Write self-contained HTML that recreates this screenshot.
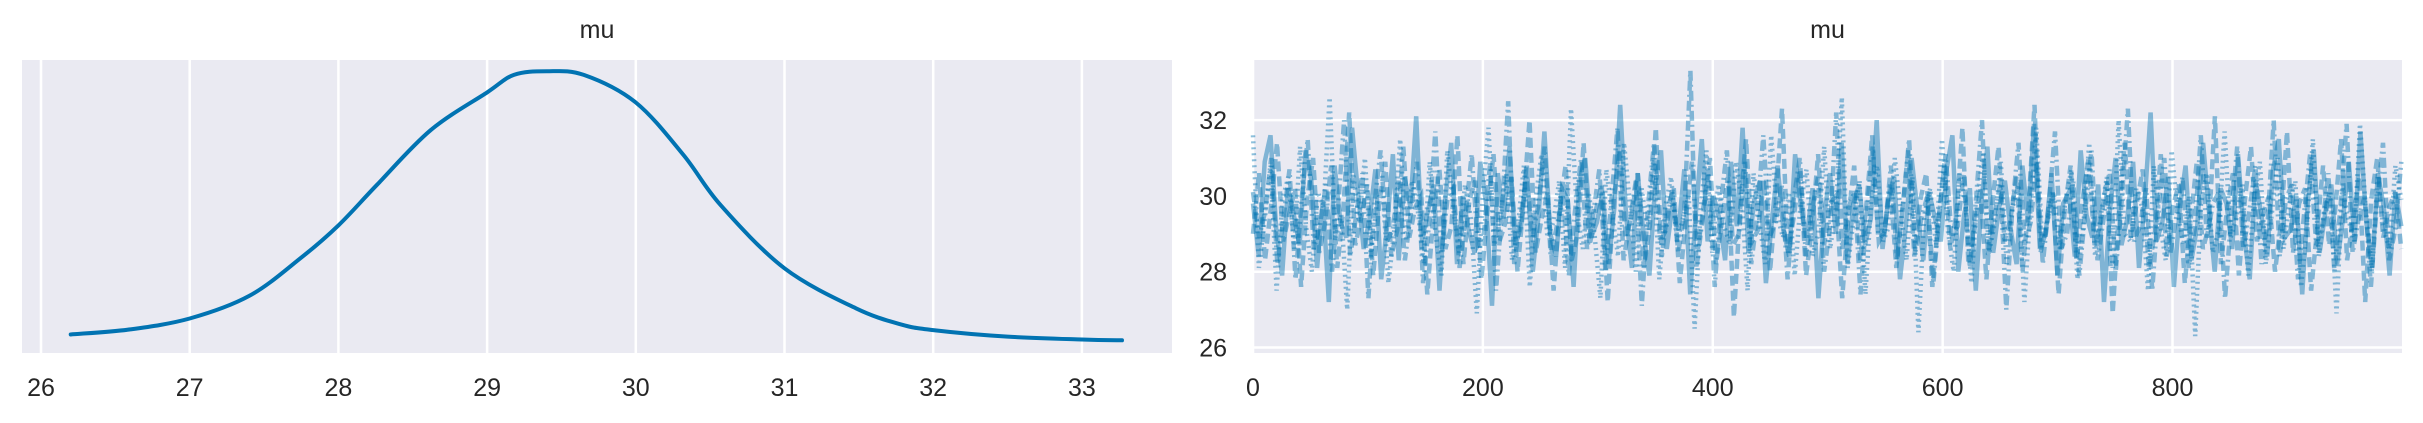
<!DOCTYPE html>
<html><head><meta charset="utf-8">
<style>
html,body{margin:0;padding:0;background:#fff;}
svg{display:block;font-family:"Liberation Sans",Arial,sans-serif;}
</style></head>
<body>
<svg id="fig" width="2423" height="423" viewBox="0 0 2423 423" xmlns="http://www.w3.org/2000/svg">
  <g id="left"></g>
  <g id="right"></g>
</svg>
<script>
// ---- KDE data (density panel) ----
const kdeX = [26.2,26.6,27.0,27.4,27.74,28.0,28.26,28.62,29.0,29.18,29.4,29.65,30.0,30.32,30.57,31.0,31.48,31.78,32.0,32.5,33.0,33.27];
const kdeY = [0.009,0.016,0.031,0.062,0.113,0.159,0.215,0.290,0.342,0.366,0.371,0.366,0.328,0.256,0.187,0.100,0.045,0.023,0.015,0.006,0.002,0.001];
const leftTicks = [26,27,28,29,30,31,32,33];
// ---- Trace data (4 chains, thinned draws) ----
const chain1 = [29.8,28.4,30.9,31.6,29.1,27.9,30.2,29.5,28.7,31.2,30.4,28.1,29.9,27.2,30.8,29.3,28.9,31.8,30.1,28.6,29.4,30.7,27.8,29.2,31.1,28.3,30.5,29.7,32.1,28.8,29.6,30.3,27.5,29.9,31.4,28.2,30.0,29.1,28.5,30.9,29.8,27.1,30.6,29.4,31.3,28.7,29.2,30.8,28.0,29.5,31.7,29.0,28.4,30.2,29.9,27.6,30.4,31.0,28.9,29.3,30.1,28.2,29.7,32.4,29.5,28.1,30.6,29.0,27.9,30.3,31.2,28.6,29.8,29.1,30.7,27.4,29.6,31.5,28.8,30.0,29.4,28.3,30.9,29.2,31.8,28.5,29.9,30.4,27.7,29.3,30.8,29.1,28.4,31.1,29.7,28.9,30.2,27.3,29.5,30.6,29.0,31.4,28.2,29.8,30.3,28.7,29.4,32.0,28.6,29.9,30.5,27.8,29.2,31.0,29.6,28.3,30.1,29.4,28.8,30.7,31.6,28.0,29.5,30.2,27.5,29.9,31.3,28.5,29.7,30.4,29.1,28.2,30.8,29.3,31.9,28.6,29.0,30.6,27.9,29.8,30.1,28.4,31.2,29.5,28.9,30.3,27.2,29.6,31.0,28.7,29.4,30.9,28.1,29.9,32.2,28.8,29.3,30.5,27.6,29.7,30.8,28.3,29.2,31.4,29.6,28.0,30.2,29.8,28.6,31.1,29.0,27.8,30.4,29.5,28.4,30.7,31.5,28.9,29.1,30.0,27.4,29.9,31.2,28.5,29.6,30.3,28.2,29.4,30.9,28.8,31.7,29.3,28.1,30.6,29.7,27.9,30.1,29.2];
const chain2 = [31.6,28.1,29.4,30.8,27.5,29.9,30.5,28.6,31.3,29.2,28.0,30.1,29.7,32.6,28.9,29.5,27.0,30.6,29.3,31.0,28.4,29.8,30.2,27.7,29.1,31.5,28.8,30.4,29.6,28.2,30.9,29.0,27.9,31.2,29.7,28.5,30.3,29.4,26.9,30.0,31.8,28.7,29.5,30.6,28.3,29.2,30.8,27.6,29.9,31.1,28.9,29.3,30.4,28.1,32.3,29.6,28.6,30.1,29.0,27.3,30.7,29.5,28.4,31.4,29.8,28.0,30.2,29.1,31.0,27.8,29.7,30.5,28.8,29.4,30.0,26.5,29.6,31.2,28.5,30.3,29.2,28.7,30.9,29.9,27.5,30.6,29.3,28.2,31.6,29.5,28.9,30.1,27.9,29.8,30.7,28.4,29.0,31.3,28.6,29.7,32.6,28.1,29.4,30.4,27.4,29.9,30.8,28.8,29.2,31.0,29.6,28.3,30.5,26.4,29.5,30.2,28.7,31.5,29.1,28.0,30.6,29.8,27.7,30.0,31.1,28.5,29.3,30.9,28.2,29.7,30.3,27.2,29.6,31.8,28.9,29.4,30.1,28.6,29.9,30.7,27.8,29.2,31.4,28.4,29.5,30.5,28.1,32.0,29.0,28.8,30.2,29.7,27.5,30.8,29.3,28.3,31.2,29.6,28.7,30.0,26.3,29.8,30.6,28.5,29.1,31.7,28.9,29.4,30.3,27.9,29.9,30.9,28.2,29.5,31.0,28.6,29.8,30.4,27.6,29.2,31.5,28.4,29.7,30.1,26.9,30.2,29.4,28.8,31.9,29.6,28.0,30.5,29.1,28.6,30.8,29.9];
const chain3 = [29.0,30.6,28.3,29.7,31.4,28.8,29.5,30.2,27.6,29.9,31.0,28.5,29.3,30.8,28.1,29.6,32.2,28.7,29.4,30.3,27.9,29.8,30.9,28.4,29.1,31.3,28.9,29.7,30.0,27.4,29.5,30.7,28.6,29.2,31.6,28.2,29.9,30.4,27.8,29.6,31.1,28.8,29.3,30.5,28.0,29.8,32.0,28.5,29.4,30.1,27.5,29.7,30.8,28.3,29.0,31.4,28.7,29.6,30.3,27.2,29.9,31.2,28.9,29.5,30.6,28.1,29.2,31.8,28.4,29.7,30.2,27.7,29.4,30.9,28.6,29.8,31.0,28.2,29.3,30.5,26.8,29.6,31.5,28.8,29.1,30.4,28.0,29.9,32.3,28.5,29.5,30.7,27.9,29.2,31.1,28.7,29.8,30.0,27.3,29.4,30.8,28.3,29.7,31.6,28.9,29.0,30.3,28.1,29.6,31.2,28.4,29.9,30.6,27.6,29.3,30.9,28.6,29.5,31.8,28.2,29.1,30.2,27.8,29.8,31.3,28.8,29.4,30.5,28.0,29.7,32.4,28.5,29.2,30.1,27.4,29.6,30.8,28.3,29.9,31.0,28.7,29.3,30.4,26.9,29.5,31.4,28.9,29.8,30.7,28.1,29.0,31.1,28.4,29.7,30.3,27.7,29.4,30.9,28.6,29.2,32.1,28.2,29.6,30.6,27.9,29.9,31.3,28.8,29.5,30.0,28.0,29.3,31.7,28.5,29.8,30.2,27.5,29.1,30.8,28.7,29.6,31.5,28.3,29.4,30.5,27.2,29.9,31.0,28.9,29.7,30.1,28.6];
const chain4 = [30.1,28.9,29.6,31.0,28.2,29.4,30.7,27.8,29.9,31.5,28.6,29.2,30.3,28.0,29.7,32.0,28.4,29.5,30.6,27.3,29.8,31.2,28.8,29.1,30.4,28.3,29.6,30.9,27.7,29.3,31.7,28.5,29.9,30.2,28.1,29.5,31.1,28.7,29.0,30.8,27.5,29.7,32.5,28.2,29.4,30.5,28.9,29.8,31.3,28.4,29.2,30.0,27.9,29.6,31.0,28.6,29.5,30.7,28.0,29.9,31.8,28.3,29.3,30.4,27.1,29.7,31.4,28.8,29.1,30.2,28.5,29.6,33.3,28.1,29.4,30.6,27.6,29.8,31.2,28.7,29.0,30.9,28.2,29.5,31.6,28.9,29.3,30.3,27.8,29.9,31.0,28.4,29.6,30.5,28.0,29.2,32.2,28.6,29.7,30.1,27.4,29.5,31.3,28.8,29.1,30.8,28.3,29.8,31.5,28.5,29.4,30.0,27.7,29.6,31.1,28.9,29.2,30.6,28.1,29.9,32.0,28.4,29.5,30.3,27.0,29.7,31.4,28.7,29.3,30.9,28.2,29.8,31.7,28.6,29.0,30.4,27.9,29.6,31.2,28.3,29.4,30.7,28.0,29.9,32.3,28.8,29.2,30.2,27.5,29.7,31.0,28.5,29.5,30.5,28.1,29.1,31.6,28.9,29.8,30.1,27.3,29.4,31.3,28.6,29.6,30.8,28.2,29.3,32.0,28.4,29.9,30.3,27.8,29.5,31.1,28.7,29.2,30.6,28.0,29.7,31.9,28.5,29.4,30.0,27.6,29.8,31.4,28.3,29.1,30.9];
const rightXTicks = [0,200,400,600,800];
const rightYTicks = [26,28,30,32];
const nDraws = 1000;

const NS = "http://www.w3.org/2000/svg";
function mk(tag, attrs, parent){ const e=document.createElementNS(NS,tag); for(const k in attrs) e.setAttribute(k,attrs[k]); parent.appendChild(e); return e; }
const BG = "#eaeaf2", TXT="#262626";

// ---------- Left panel ----------
const L = {x0:22, x1:1172, y0:60, y1:353};
const lx = v => 41 + (v-26)*148.7;
const ly = d => 341 - d*727;
const left = document.getElementById('left');
const lbg = mk('rect',{x:L.x0,y:L.y0,width:L.x1-L.x0,height:L.y1-L.y0,fill:BG},left);


leftTicks.forEach(t=>{
  const g = mk('line',{x1:lx(t),x2:lx(t),y1:L.y0,y2:L.y1,stroke:'#fff','stroke-width':2.5},left);
  
  
  const tx = mk('text',{x:lx(t),y:396,'font-size':25,fill:TXT,'text-anchor':'middle'},left);
  tx.textContent = t;
  
  
});
// Catmull-Rom smoothing through the KDE points
const pts = kdeX.map((v,i)=>[lx(v),ly(kdeY[i])]);
let dpath = 'M'+pts[0][0].toFixed(1)+' '+pts[0][1].toFixed(1);
for(let i=0;i<pts.length-1;i++){
  const p0=pts[Math.max(i-1,0)], p1=pts[i], p2=pts[i+1], p3=pts[Math.min(i+2,pts.length-1)];
  const c1=[p1[0]+(p2[0]-p0[0])/6, p1[1]+(p2[1]-p0[1])/6];
  const c2=[p2[0]-(p3[0]-p1[0])/6, p2[1]-(p3[1]-p1[1])/6];
  dpath+=' C'+c1[0].toFixed(1)+' '+c1[1].toFixed(1)+' '+c2[0].toFixed(1)+' '+c2[1].toFixed(1)+' '+p2[0].toFixed(1)+' '+p2[1].toFixed(1);
}
const kde = mk('path',{d:dpath,fill:'none',stroke:'#0173b2','stroke-width':4,'stroke-linejoin':'round','stroke-linecap':'round'},left);


const lt = mk('text',{x:(L.x0+L.x1)/2,y:38,'font-size':25,fill:TXT,'text-anchor':'middle'},left);
lt.textContent='mu';



// ---------- Right panel ----------
const R = {x0:1253, x1:2402, y0:60, y1:353};
const rx = i => R.x0 + i*1.1494;
const ry = v => 347.5 - (v-26)*37.9;
const right = document.getElementById('right');
const rbg = mk('rect',{x:R.x0,y:R.y0,width:R.x1-R.x0,height:R.y1-R.y0,fill:BG},right);


rightXTicks.forEach(t=>{
  const g = mk('line',{x1:rx(t),x2:rx(t),y1:R.y0,y2:R.y1,stroke:'#fff','stroke-width':2.5},right);
  
  
  const tx = mk('text',{x:rx(t),y:396,'font-size':25,fill:TXT,'text-anchor':'middle'},right);
  tx.textContent=t;
  
  
});
rightYTicks.forEach(t=>{
  const g = mk('line',{x1:R.x0,x2:R.x1,y1:ry(t),y2:ry(t),stroke:'#fff','stroke-width':2.5},right);
  
  
  const tx = mk('text',{x:1227,y:ry(t)+9,'font-size':25,fill:TXT,'text-anchor':'end'},right);
  tx.textContent=t;
  
  
});
const chains=[chain1,chain2,chain3,chain4];
const dashes=['none','2 4','10 5','10 4 2 4'];
chains.forEach((c,ci)=>{
  const step=(nDraws-1)/(c.length-1);
  const d=c.map((v,i)=>(i?'L':'M')+rx(i*step).toFixed(1)+' '+ry(v).toFixed(1)).join(' ');
  const p=mk('path',{d:d,fill:'none',stroke:'#0173b2','stroke-opacity':0.45,'stroke-width':4.5,'stroke-dasharray':dashes[ci]},right);
  
  
});
const rt = mk('text',{x:(R.x0+R.x1)/2,y:38,'font-size':25,fill:TXT,'text-anchor':'middle'},right);
rt.textContent='mu';


</script>
</body></html>
